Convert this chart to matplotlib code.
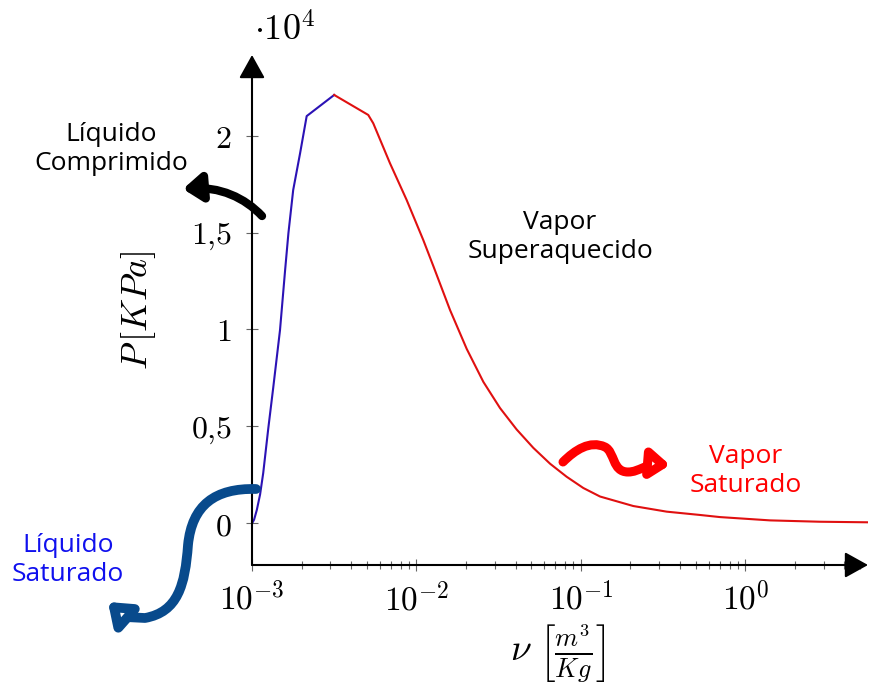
import numpy as np
import matplotlib
matplotlib.use("Agg")
import matplotlib.pyplot as plt
from matplotlib.path import Path
from matplotlib.patches import FancyArrowPatch
from matplotlib.ticker import FuncFormatter, FixedLocator, LogLocator, NullFormatter

plt.rcParams['mathtext.fontset'] = 'cm'

# ---- data (v in m^3/kg, P in kPa) ----
v_liq = [1.0e-3, 1.03e-3, 1.07e-3, 1.12e-3, 1.17e-3, 1.256e-3, 1.346e-3, 1.48e-3,
         1.59e-3, 1.665e-3, 1.78e-3, 1.96e-3, 2.15e-3, 3.16e-3]
p_liq = [0, 200, 700, 1500, 2600, 4900, 7000, 9970,
         13070, 14970, 17190, 19080, 21000, 22090]

v_vap = [3.16e-3, 5.09e-3, 5.46e-3, 6.9e-3, 8.71e-3, 0.011, 0.0127, 0.016, 0.0202,
         0.0255, 0.0322, 0.0406, 0.0513, 0.0649, 0.0818, 0.1033, 0.1306, 0.208,
         0.332, 0.528, 0.70, 1.41, 2.84, 5.7]
p_vap = [22090, 21060, 20630, 18570, 16680, 14610, 13240, 11000, 9000,
         7300, 5950, 4850, 3900, 3080, 2410, 1830, 1390, 900,
         610, 440, 330, 160, 90, 60]

y_ticks = [0, 5000, 10000, 15000, 20000]
x_ticks = [1e-3, 1e-2, 1e-1, 1e0]

W, H = 872, 689
fig = plt.figure(figsize=(W / 100, H / 100), dpi=100)
ax = fig.add_axes([252 / W, 124 / H, (868 - 252) / W, (565 - 55) / H])

ax.plot(v_liq, p_liq, color='#2b12b5', lw=1.5)
ax.plot(v_vap, p_vap, color='#e01010', lw=1.5)

ax.set_xscale('log')
ax.set_xlim(1e-3, 10 ** 0.745)
ax.set_ylim(-2140, 24150)

for s in ax.spines.values():
    s.set_visible(False)

arrow_kw = dict(arrowstyle='-|>,head_length=0.72,head_width=0.4', color='black',
                lw=1.5, mutation_scale=20, shrinkA=0, shrinkB=0)
ax.annotate('', xy=(1, 0), xytext=(0, 0), xycoords='axes fraction',
            textcoords='axes fraction', arrowprops=arrow_kw, annotation_clip=False)
ax.annotate('', xy=(0, 1), xytext=(0, 0), xycoords='axes fraction',
            textcoords='axes fraction', arrowprops=arrow_kw, annotation_clip=False)

ax.yaxis.set_major_locator(FixedLocator(y_ticks))
def yfmt(val, pos):
    s = ('%g' % (val / 1e4)).replace('.', '{,}')
    return '$' + s + '$'
ax.yaxis.set_major_formatter(FuncFormatter(yfmt))

ax.xaxis.set_major_locator(FixedLocator(x_ticks))
ax.xaxis.set_minor_locator(LogLocator(base=10, subs=np.arange(2, 10), numticks=20))
ax.xaxis.set_minor_formatter(NullFormatter())
ax.xaxis.set_major_formatter(FuncFormatter(lambda v, p: r'$10^{%d}$' % round(np.log10(v))))

ax.tick_params(axis='both', which='major', direction='inout', length=9, width=0.8,
               color='#666666')
ax.tick_params(axis='y', pad=10, labelsize=23)
ax.tick_params(axis='x', pad=8, labelsize=24)
ax.tick_params(axis='x', which='minor', direction='inout', length=6, width=0.8,
               color='#666666')

ax.set_ylabel(r'$P\,[KPa]$', fontsize=26)
ax.yaxis.set_label_coords(-0.152, 0.5)
ax.set_xlabel(r'$\nu\ \left[\frac{m^3}{Kg}\right]$', fontsize=27)
ax.xaxis.set_label_coords((558 - 252) / (868 - 252), -0.112)

fig.text(254 / W, 1 - 30 / H, r'$\cdot 10^4$', fontsize=26, ha='left', va='center')

def px(x, y):
    return (x / W, 1 - y / H)

tfont = dict(family=['Open Sans', 'DejaVu Sans'], fontsize=19, ha='center',
             va='center', linespacing=1.2)
fig.text(*px(111, 149), 'Líquido\nComprimido', color='black', **tfont)
fig.text(*px(560, 237), 'Vapor\nSuperaquecido', color='black', **tfont)
fig.text(*px(746, 471), 'Vapor\nSaturado', color='#ff0000', **tfont)
fig.text(*px(68, 560), 'Líquido\nSaturado', color='#1010ee', **tfont)

def deco(points, codes, color, lw, fc, ms=18):
    verts = [px(*p) for p in points]
    path = Path(verts, codes)
    arr = FancyArrowPatch(path=path, arrowstyle='-|>,head_length=0.6,head_width=0.45',
                          mutation_scale=ms, lw=lw, color=color, fc=fc,
                          transform=fig.transFigure, capstyle='round',
                          joinstyle='round')
    fig.patches.append(arr)

C4 = Path.CURVE4
# black arrow
deco([(262, 216), (245, 198), (220, 186), (183, 189)],
     [Path.MOVETO, C4, C4, C4], 'black', 6, 'black')
# blue arrow
deco([(256, 489), (215, 488), (192, 505), (188, 545),
      (185, 585), (178, 612), (145, 618), (125, 617), (108, 602)],
     [Path.MOVETO, C4, C4, C4, C4, C4, C4, Path.LINETO, Path.LINETO],
     '#084a8c', 7, 'white', 20)
# red arrow
deco([(563, 462), (575, 450), (590, 440), (605, 447),
      (615, 452), (612, 472), (628, 472),
      (640, 472), (645, 463), (670, 465)],
     [Path.MOVETO, C4, C4, C4, C4, C4, C4, C4, C4, C4], '#ff0000', 6.5, 'white')

fig.savefig('out.png', dpi=100)
